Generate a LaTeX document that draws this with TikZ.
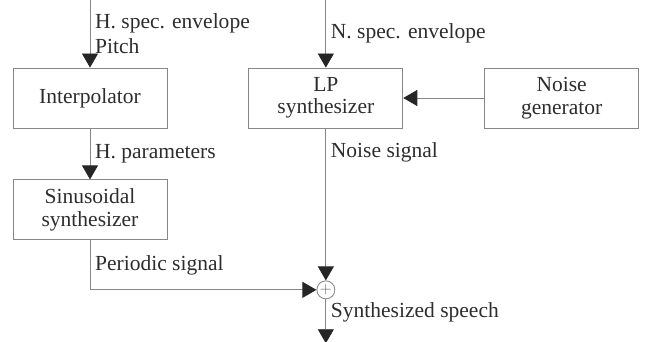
\documentclass[tikz,border=0pt]{standalone}
\usepackage{fontspec}
\setmainfont{Liberation Serif}
\usetikzlibrary{arrows.meta,positioning}

\definecolor{linegray}{RGB}{135,135,135}
\definecolor{textgray}{RGB}{45,45,45}

\begin{document}
\begin{tikzpicture}[
        node distance=1.275cm and 2.025cm,
        font=\fontsize{15.3}{16}\selectfont,
        text=textgray,
        block/.style={rectangle, draw=linegray, line width=0.6pt, minimum width=3.85cm, minimum height=1.5cm, align=center},
        adder/.style={circle, draw=linegray, line width=0.6pt, minimum size=0.45cm, inner sep=0pt, font=\fontsize{11}{11}\selectfont, text=black!60},
        line/.style={draw=linegray, line width=0.6pt},
        flow/.style={line, -{Triangle[length=0.35cm,width=0.4cm,color=black!85]}}
    ]
        \useasboundingbox (0,0) rectangle (16.2,-8.55);
        
        % Harmonic part
        \node [block] (interp) at (2.25,-2.45) {Interpolator};
        \node [block, below=of interp] (sinus) {Sinusoidal\\synthesizer};
        
        % Noise part
        \node [block, right=of interp] (lpsynth) {LP\\synthesizer};
        \node [block, right=of lpsynth] (noisegen) {Noise\\generator};
        
        % Adder
        \node [adder, below=3.8cm of lpsynth] (sum) {$+$};
        
        % Free ends
        \coordinate [above=1.7cm of interp] (hin);
        \coordinate [above=1.7cm of lpsynth] (nin);
        \coordinate [below=1.1cm of sum] (out);
        
        % Arrows
        \draw [flow] (hin) -- (interp) node[midway, right, align=left] {H. spec. envelope\\[2pt]Pitch};
        \draw [flow] (interp) -- (sinus) node[midway, right] {H. parameters};
        \draw [flow] (nin) -- (lpsynth) node[midway, right] {N. spec. envelope};
        \draw [flow] (noisegen) -- (lpsynth);
        \draw [flow] (lpsynth) -- (sum) node[pos=0.16, right] {Noise signal};
        \draw [flow] (sinus) |- (sum) node[pos=0.25, right] {Periodic signal};
        \draw [flow] (sum) -- (out) node[pos=0.3, right] {Synthesized speech};
        
    \end{tikzpicture}
\end{document}
